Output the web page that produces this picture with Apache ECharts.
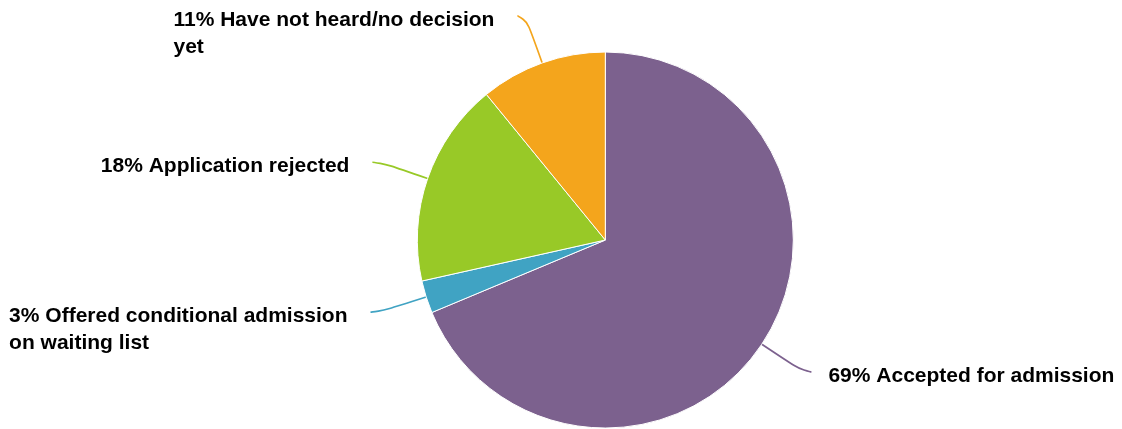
<!DOCTYPE html>
<html><head><meta charset="utf-8">
<script src="https://cdn.jsdelivr.net/npm/echarts@6/dist/echarts.min.js"></script>
<style>html,body{margin:0;padding:0;background:#fff}#c{width:1122px;height:429px}</style>
</head><body><div id="c"></div>
<script>
const categories = ['Accepted for admission', 'Offered conditional admission on waiting list', 'Application rejected', 'Have not heard/no decision yet'];
const values = [68.7, 2.8, 17.6, 10.9];
const colors = ['#7C618E', '#40A3C3', '#98C927', '#F4A51C'];

const FONT_SIZE = 21, LINE_H = 27;
const FONT_FAMILY = '"Liberation Sans", Arial, Helvetica, sans-serif';
const mctx = document.createElement('canvas').getContext('2d');
mctx.font = 'bold ' + FONT_SIZE + 'px ' + FONT_FAMILY;
function wrap(text, maxW) {
  const words = text.split(' ');
  const lines = [];
  let cur = '';
  for (const w of words) {
    const t = cur ? cur + ' ' + w : w;
    if (cur && mctx.measureText(t).width > maxW) { lines.push(cur); cur = w; }
    else cur = t;
  }
  if (cur) lines.push(cur);
  return lines;
}

const chart = echarts.init(document.getElementById('c'), null, {renderer: 'canvas'});
chart.setOption({
  animation: false,
  backgroundColor: '#fff',
  series: [{
    type: 'pie',
    center: ['53.95%', '55.95%'],
    radius: 188,
    startAngle: 90,
    clockwise: true,
    avoidLabelOverlap: false,
    data: categories.map((n, i) => ({name: n, value: values[i], itemStyle: {color: colors[i]}})),
    itemStyle: {borderColor: '#fff', borderWidth: 1},
    label: {
      show: true,
      position: 'outside',
      distanceToLabelLine: 19,
      bleedMargin: 0,
      formatter: p => wrap(Math.round(p.percent) + '% ' + p.name, 345).map(l => '{t|' + l + '}').join('\n'),
      rich: {t: {fontSize: FONT_SIZE, fontWeight: 'bold', fontFamily: FONT_FAMILY, color: '#000', lineHeight: LINE_H, align: 'left'}}
    },
    labelLine: {show: true, length: 50, length2: 8, smooth: 0.9, lineStyle: {width: 1.7}},
    labelLayout: function (p) {
      const n = Math.max(1, Math.round(p.labelRect.height / LINE_H));
      return {dx: p.align === 'right' ? -4 : -2, dy: (n - 1) * LINE_H / 2 + 4};
    },
    emphasis: {disabled: true}
  }]
});
</script></body></html>
